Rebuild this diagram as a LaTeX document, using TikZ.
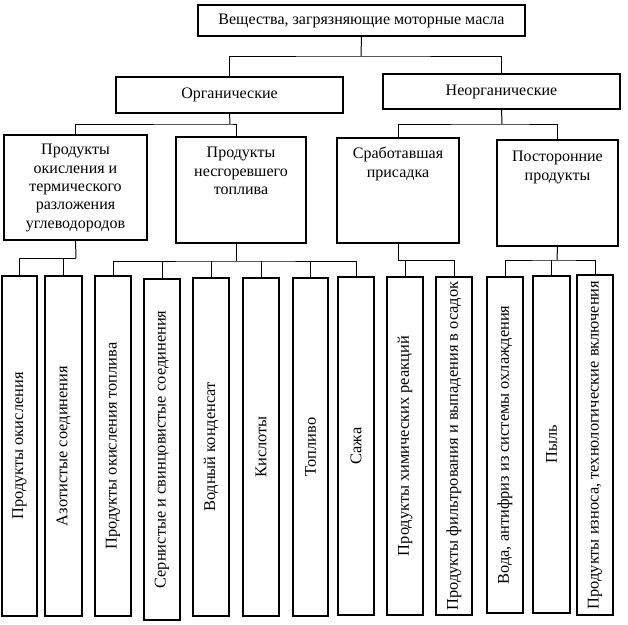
\documentclass[tikz,border=0pt]{standalone}
\usepackage{fontspec}
\setmainfont{Liberation Serif}
\begin{document}
\begin{tikzpicture}[x=1pt,y=-1pt,
  box/.style={draw=black,line width=1.5pt,anchor=north west,inner sep=0pt,outer sep=0pt},
  ln/.style={draw=black,line width=1pt},
  txt/.style={font=\fontsize{16}{18.4}\selectfont,align=center,inner sep=0pt},
  vtxt/.style={font=\fontsize{16.4}{18}\selectfont,rotate=90,inner sep=0pt}]
\useasboundingbox (0,0) rectangle (628,624);
% level 1
\node[box,minimum width=327pt,minimum height=31pt] (top) at (198,5) {};
\node[txt] (ttop) at (top.center) {Вещества, загрязняющие моторные масла};
% level 2
\node[box,minimum width=227pt,minimum height=36pt] (org) at (116,77) {};
\node[txt] (torg) at (org.center) {Органические};
\node[box,minimum width=237pt,minimum height=35pt] (neo) at (383,74) {};
\node[txt] (tneo) at (neo.center) {Неорганические};
% level 3
\node[box,minimum width=143pt,minimum height=105pt] (p1) at (4,135) {};
\node[txt,anchor=north] (tp1) at ([yshift=-9pt]p1.north) {Продукты\\окисления и\\термического\\разложения\\углеводородов};
\node[box,minimum width=130pt,minimum height=106pt] (p2) at (176,137) {};
\node[txt,anchor=north] (tp2) at ([yshift=-10pt]p2.north) {Продукты\\несгоревшего\\топлива};
\node[box,minimum width=122pt,minimum height=105pt] (p3) at (337,138) {};
\node[txt,anchor=north] (tp3) at ([yshift=-9pt]p3.north) {Сработавшая\\присадка};
\node[box,minimum width=121pt,minimum height=106pt] (p4) at (497,140) {};
\node[txt,anchor=north] (tp4) at ([yshift=-11pt]p4.north) {Посторонние\\продукты};
% level 4
\node[box,minimum width=35pt,minimum height=340pt] (b1) at (2,276) {};
\node[vtxt] (tb1) at (b1.center) {Продукты окисления};
\node[box,minimum width=37pt,minimum height=340pt] (b2) at (45,276) {};
\node[vtxt] (tb2) at (b2.center) {Азотистые соединения};
\node[box,minimum width=36pt,minimum height=340pt] (b3) at (95,276) {};
\node[vtxt] (tb3) at (b3.center) {Продукты окисления топлива};
\node[box,minimum width=36pt,minimum height=341pt] (b4) at (144,279) {};
\node[vtxt] (tb4) at (b4.center) {Сернистые и свинцовистые соединения};
\node[box,minimum width=36pt,minimum height=338pt] (b5) at (193,278) {};
\node[vtxt] (tb5) at (b5.center) {Водный конденсат};
\node[box,minimum width=36pt,minimum height=338pt] (b6) at (243,278) {};
\node[vtxt] (tb6) at (b6.center) {Кислоты};
\node[box,minimum width=35pt,minimum height=338pt] (b7) at (293,278) {};
\node[vtxt] (tb7) at (b7.center) {Топливо};
\node[box,minimum width=36pt,minimum height=338pt] (b8) at (338,277) {};
\node[vtxt] (tb8) at (b8.center) {Сажа};
\node[box,minimum width=36pt,minimum height=338pt] (b9) at (387,277) {};
\node[vtxt] (tb9) at (b9.center) {Продукты химических реакций};
\node[box,minimum width=36pt,minimum height=338pt] (b10) at (436,277) {};
\node[vtxt] (tb10) at (b10.center) {Продукты фильтрования и выпадения в осадок};
\node[box,minimum width=36pt,minimum height=336pt] (b11) at (487,277) {};
\node[vtxt] (tb11) at (b11.center) {Вода, антифриз из системы охлаждения};
\node[box,minimum width=37pt,minimum height=337pt] (b12) at (533,276) {};
\node[vtxt] (tb12) at (b12.center) {Пыль};
\node[box,minimum width=36pt,minimum height=340pt] (b13) at (577,275) {};
\node[vtxt] (tb13) at (b13.center) {Продукты износа, технологические включения};
% connectors
\coordinate (j0) at (361,56);
\draw[ln] (top.south) -- (j0);
\draw[ln] (org.north) |- (j0) -| (neo.north);
\coordinate (j1) at (230,124);
\draw[ln] (org.south) -- (j1);
\draw[ln] (p1.north) |- (j1) -| ([xshift=-5pt]p2.north);
\coordinate (j2) at (502,124);
\draw[ln] (neo.south) -- (j2);
\draw[ln] (p3.north) |- (j2) -| (p4.north);
% p1 children
\coordinate (k1) at (76,258);
\draw[ln] (p1.south) -- (k1);
\draw[ln] (b1.north) |- (k1);
\draw[ln] (b2.north) -- (b2.north |- k1);
% p2 children
\coordinate (k2) at (236,261);
\draw[ln] ([xshift=-5pt]p2.south) -- (k2);
\draw[ln] (b3.north) |- (k2) -| (b8.north);
\foreach \b in {b4,b5,b6,b7} \draw[ln] (\b.north) -- (\b.north |- k2);
% p3 children
\coordinate (k3) at (398,259);
\draw[ln] (p3.south) -- (k3);
\coordinate (k3b) at (405,260);
\draw[ln] (k3) -- (k3 |- k3b) -- (k3b);
\draw[ln] (b9.north) -- (k3b) -| (b10.north);
% p4 children
\coordinate (k4) at (557,260);
\draw[ln] (p4.south) -- (k4);
\draw[ln] (b11.north) |- (k4) -| (b13.north);
\draw[ln] (b12.north) -- (b12.north |- k4);
\end{tikzpicture}
\end{document}
